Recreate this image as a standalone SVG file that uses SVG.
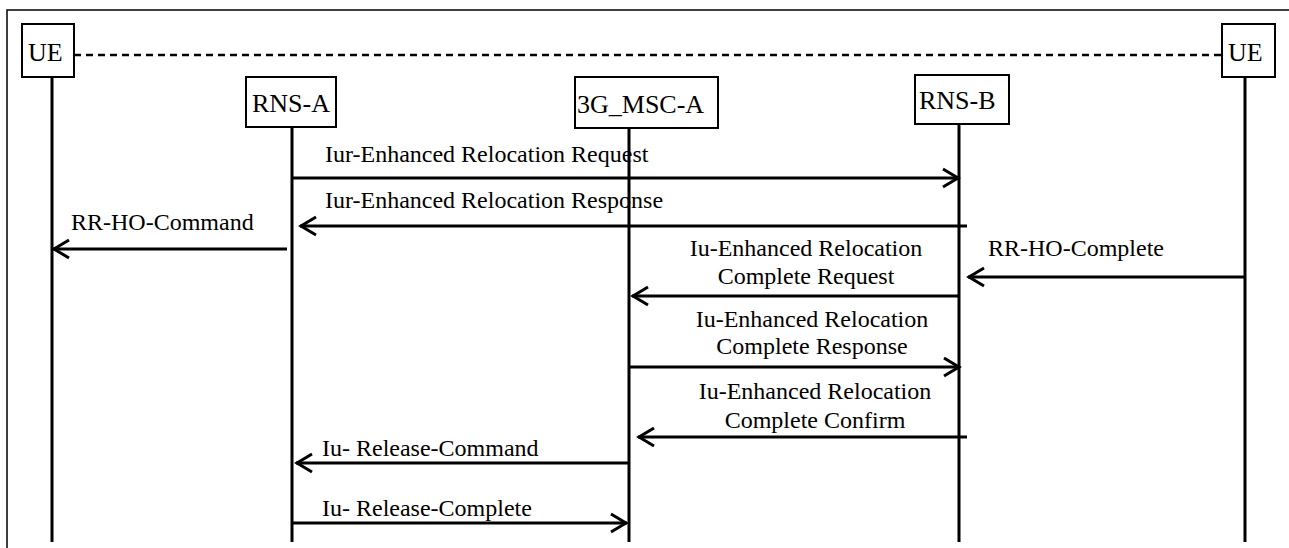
<svg xmlns="http://www.w3.org/2000/svg" width="1289" height="548" viewBox="0 0 1289 548">
<style>
.box{fill:#fff;stroke:#000;stroke-width:2}
.life{stroke:#000;stroke-width:3;fill:none}
.msg{stroke:#000;stroke-width:3;fill:none;marker-end:url(#ah)}
.nt{font-family:"Liberation Serif","Times New Roman",serif;font-size:26px;fill:#000}
.lt{font-family:"Liberation Serif","Times New Roman",serif;font-size:24px;fill:#000}
.c{text-anchor:middle}
</style>
<defs>
<marker id="ah" markerUnits="userSpaceOnUse" viewBox="-22 -14 26 28" markerWidth="26" markerHeight="28" refX="0" refY="0" orient="auto">
<path d="M-16,-9 L-1,0 L-16,9" fill="none" stroke="#000" stroke-width="3"/>
</marker>
</defs>
<rect x="0" y="0" width="1289" height="548" fill="#fff"/>
<g id="frame">
<path d="M7,548 V10 H1289" fill="none" stroke="#000" stroke-width="1.5"/>
</g>
<g id="connectors">
<line x1="74" y1="55" x2="1222" y2="55" stroke="#000" stroke-width="2.5" stroke-dasharray="7,5"/>
<line class="life" x1="52" y1="77" x2="52" y2="542"/>
<line class="life" x1="292" y1="127" x2="292" y2="542"/>
<line class="life" x1="629" y1="128" x2="629" y2="542"/>
<line class="life" x1="959" y1="124" x2="959" y2="542"/>
<line class="life" x1="1245" y1="77" x2="1245" y2="542"/>
<line class="msg" x1="292" y1="178" x2="959" y2="178"/>
<line class="msg" x1="967" y1="226" x2="300" y2="226"/>
<line class="msg" x1="287" y1="249" x2="53" y2="249"/>
<line class="msg" x1="1245" y1="277" x2="968" y2="277"/>
<line class="msg" x1="960" y1="296" x2="632" y2="296"/>
<line class="msg" x1="629" y1="367" x2="960" y2="367"/>
<line class="msg" x1="967" y1="437" x2="638" y2="437"/>
<line class="msg" x1="629" y1="463" x2="296" y2="463"/>
<line class="msg" x1="292" y1="523" x2="627" y2="523"/>
</g>
<g id="labels">
<text class="lt" x="325" y="162">Iur-Enhanced Relocation Request</text>
<text class="lt" x="325" y="208">Iur-Enhanced Relocation Response</text>
<text class="lt" x="71" y="230">RR-HO-Command</text>
<text class="lt" x="988" y="256">RR-HO-Complete</text>
<text class="lt c" x="806" y="256">Iu-Enhanced Relocation</text>
<text class="lt c" x="806" y="284">Complete Request</text>
<text class="lt c" x="812" y="327">Iu-Enhanced Relocation</text>
<text class="lt c" x="812" y="354">Complete Response</text>
<text class="lt c" x="815" y="399">Iu-Enhanced Relocation</text>
<text class="lt c" x="815" y="428">Complete Confirm</text>
<text class="lt" x="322" y="456">Iu- Release-Command</text>
<text class="lt" x="322" y="516">Iu- Release-Complete</text>
</g>
<g id="ue-left">
<rect class="box" x="22" y="24" width="52" height="53"/>
<text class="nt" x="28" y="61">UE</text>
</g>
<g id="rns-a">
<rect class="box" x="246" y="77" width="90" height="50"/>
<text class="nt" x="252" y="112">RNS-A</text>
</g>
<g id="msc-a">
<rect class="box" x="575" y="77" width="143" height="51"/>
<text class="nt" x="577" y="113">3G_MSC-A</text>
</g>
<g id="rns-b">
<rect class="box" x="915" y="75" width="94" height="49"/>
<text class="nt" x="919" y="109">RNS-B</text>
</g>
<g id="ue-right">
<rect class="box" x="1222" y="24" width="53" height="53"/>
<text class="nt" x="1228" y="61">UE</text>
</g>
</svg>
